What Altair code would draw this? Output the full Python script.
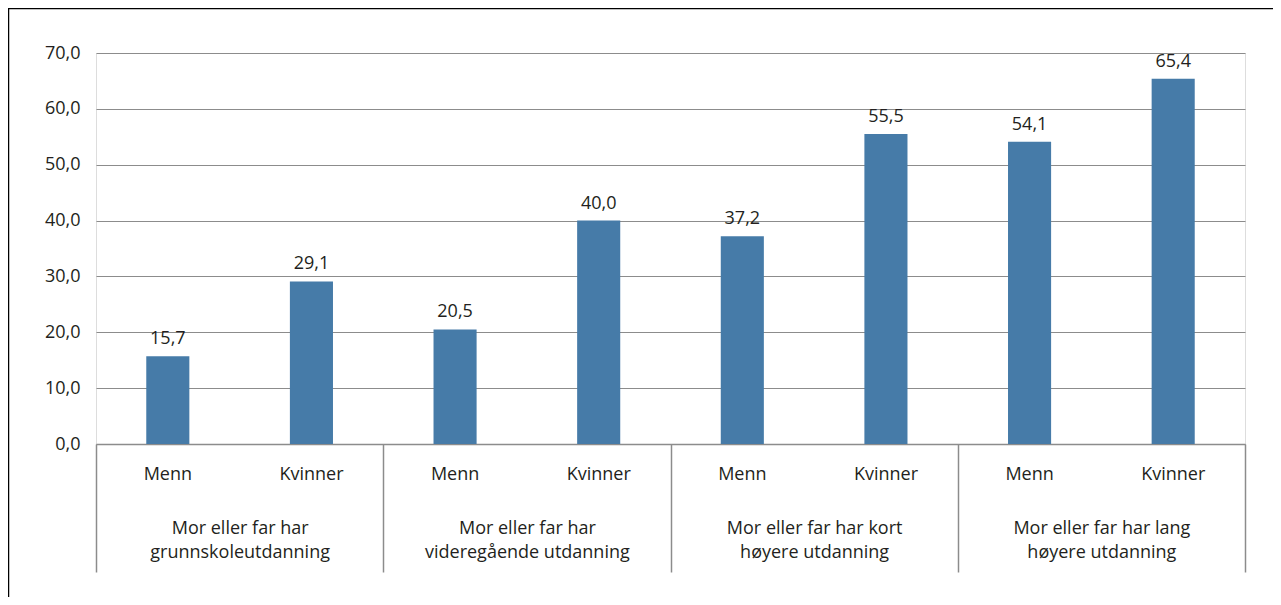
import altair as alt
import pandas as pd

groups = [
    "Mor eller far har\ngrunnskoleutdanning",
    "Mor eller far har\nvideregående utdanning",
    "Mor eller far har kort\nhøyere utdanning",
    "Mor eller far har lang\nhøyere utdanning",
]
genders = ["Menn", "Kvinner"]
menn = [15.7, 20.5, 37.2, 54.1]
kvinner = [29.1, 40.0, 55.5, 65.4]
y_ticks = [0, 10, 20, 30, 40, 50, 60, 70]

rows = []
for i, g in enumerate(groups):
    for gender, vals in zip(genders, [menn, kvinner]):
        rows.append({"slot": f"{i}|{gender}", "group": g, "gender": gender, "value": vals[i]})
df = pd.DataFrame(rows)
slot_order = list(df["slot"])
gdf = pd.DataFrame({"group": groups})

FONT = "Open Sans"
TXT = "#231f20"
GRID = "#8c8c8c"
BAR = "#467ba8"
W, H = 1149, 391

x_slot = alt.X(
    "slot:N",
    sort=slot_order,
    scale=alt.Scale(paddingInner=0.7, paddingOuter=0.35),
    axis=alt.Axis(
        orient="bottom", title=None, ticks=False, domainColor=GRID, domainWidth=1.5,
        labelAngle=0, labelPadding=21, labelFontSize=18, labelColor=TXT, labelFont=FONT,
        labelExpr="split(datum.label, '|')[1]", labelLimit=300,
    ),
)
y_val = alt.Y(
    "value:Q",
    scale=alt.Scale(domain=[0, 70], nice=False),
    axis=alt.Axis(
        title=None, values=y_ticks, domain=False, ticks=False, grid=True,
        gridColor=GRID, gridWidth=1.2, labelPadding=16, labelFontSize=18,
        labelColor=TXT, labelFont=FONT,
        labelExpr="replace(format(datum.value, '.1f'), '.', ',')",
    ),
)

frame = alt.Chart(pd.DataFrame({"a": [0]})).mark_rect(
    fill=None, stroke="#000000", strokeWidth=1.5
).encode(
    x=alt.value(-87.5), x2=alt.value(1300), y=alt.value(-44.5), y2=alt.value(700)
)

bars = alt.Chart(df).mark_bar(color=BAR).encode(x=x_slot, y=y_val)

labels = alt.Chart(df).transform_calculate(
    lab="replace(format(datum.value, '.1f'), '.', ',')"
).mark_text(
    baseline="alphabetic", dy=-12, fontSize=18, font=FONT, color=TXT
).encode(x=alt.X("slot:N", sort=slot_order), y=alt.Y("value:Q"), text="lab:N")

grp = alt.Chart(gdf).mark_point(opacity=0).encode(
    x=alt.X(
        "group:N",
        sort=groups,
        scale=alt.Scale(type="band", paddingInner=0, paddingOuter=0),
        axis=alt.Axis(
            orient="bottom", title=None, domain=False, ticks=True, tickBand="extent",
            tickSize=128, tickColor=GRID, tickWidth=1.5, labelAngle=0,
            labelPadding=-53, labelLineHeight=24, labelFontSize=18, labelColor=TXT,
            labelFont=FONT, labelBaseline="top", labelOverlap=False, labelLimit=400,
            labelExpr="split(datum.label, '\\n')",
        ),
    )
)

base = alt.layer(frame, bars, labels)
chart = alt.layer(base, grp).resolve_scale(x="independent").properties(
    width=W, height=H,
    autosize=alt.AutoSizeParams(type="none"),
    padding={"left": 88, "top": 45, "right": 28, "bottom": 153},
).configure_view(stroke=None).configure(font=FONT)

chart.save("out.html", embed_options={"renderer": "svg", "actions": False})
